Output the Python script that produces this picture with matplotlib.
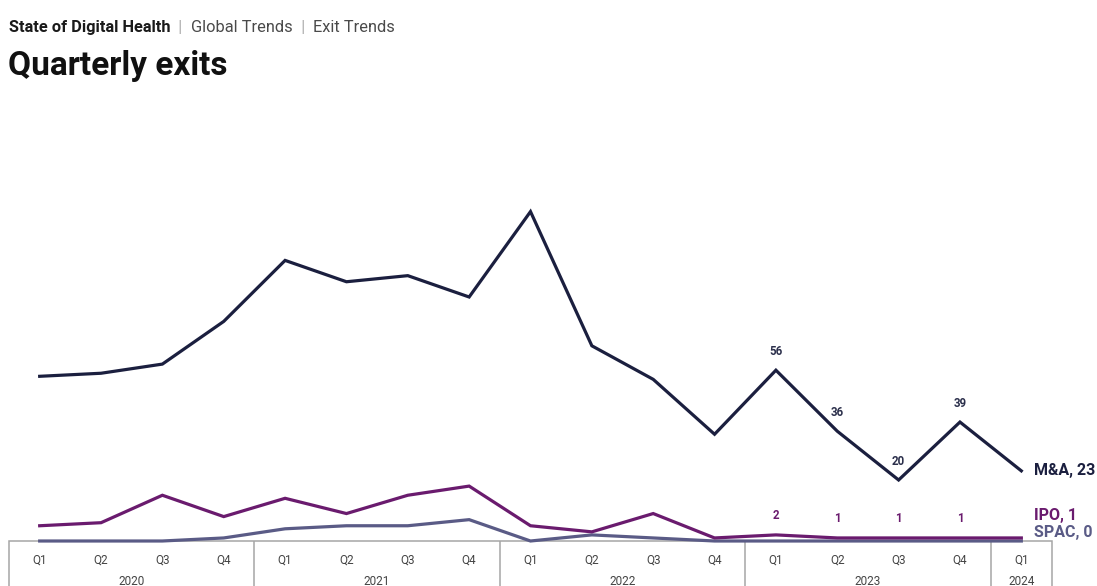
import matplotlib
matplotlib.use("Agg")
import matplotlib.pyplot as plt
from matplotlib.patches import Rectangle

plt.rcParams['font.family'] = ['Roboto', 'DejaVu Sans']

quarters = ['Q1', 'Q2', 'Q3', 'Q4'] * 4 + ['Q1']
years = ['2020', '2021', '2022', '2023', '2024']

ma = [54, 55, 58, 72, 92, 85, 87, 80, 108, 64, 53, 35, 56, 36, 20, 39, 23]
ipo = [5, 6, 15, 8, 14, 9, 15, 18, 5, 3, 9, 1, 2, 1, 1, 1, 1]
spac = [0, 0, 0, 1, 4, 5, 5, 7, 0, 2, 1, 0, 0, 0, 0, 0, 0]

ma_col = '#1b1f3f'
ipo_col = '#6a1b6e'
spac_col = '#5a5b86'
box_col = '#a6a6a6'

W, H = 1097, 586
fig = plt.figure(figsize=(W / 100, H / 100), dpi=100)
fig.patch.set_facecolor('white')

# axes: x -0.5..16.5 spans px 9..1052, y=0 sits at px 541
ax = fig.add_axes([9 / W, 0, 1043 / W, 476 / H])
ax.set_xlim(-0.5, 16.5)
ax.set_ylim(-45 / 3.05, 431 / 3.05)
ax.axis('off')

x = list(range(len(ma)))

# category box below the baseline
ax.add_patch(Rectangle((-0.5, -40), 17, 40, fill=False, ec=box_col, lw=1.1,
                       clip_on=False, zorder=1))
ax.vlines([3.5, 7.5, 11.5, 15.5], -40, 0, color=box_col, lw=1.1, zorder=1)

for i, q in enumerate(quarters):
    ax.text(i, -7.3, q, ha='center', va='baseline', fontsize=8.5, color='#444444')
year_centers = [1.5, 5.5, 9.5, 13.5, 16]
for xc, yr in zip(year_centers, years):
    ax.text(xc, -14.4, yr, ha='center', va='baseline', fontsize=8.5, color='#444444')

ax.plot(x, spac, color=spac_col, lw=2.3, zorder=3, solid_joinstyle='miter')
ax.plot(x, ipo, color=ipo_col, lw=2.3, zorder=4, solid_joinstyle='miter')
ax.plot(x, ma, color=ma_col, lw=2.3, zorder=5, solid_joinstyle='miter')

# value labels for the 2023 quarters
for i in range(12, 16):
    ax.annotate(str(ma[i]), (x[i], ma[i]), xytext=(0, 12), textcoords='offset pixels',
                ha='center', va='bottom', fontsize=8.3, fontweight='bold', color='#2b2f4b')
    ax.annotate(str(ipo[i]), (x[i], ipo[i]), xytext=(0, 13), textcoords='offset pixels',
                ha='center', va='bottom', fontsize=8.3, fontweight='bold', color=ipo_col)

# end-of-line series labels
last = len(ma) - 1
ax.annotate(f'M&A, {ma[last]}', (x[last], ma[last]), xytext=(13, 0), textcoords='offset pixels',
            ha='left', va='center', fontsize=11.5, fontweight='bold', color=ma_col)
ax.annotate(f'IPO, {ipo[last]}', (x[last], ipo[last]), xytext=(13, 22), textcoords='offset pixels',
            ha='left', va='center', fontsize=11.5, fontweight='bold', color=ipo_col)
ax.annotate(f'SPAC, {spac[last]}', (x[last], spac[last]), xytext=(13, 9), textcoords='offset pixels',
            ha='left', va='center', fontsize=11.5, fontweight='bold', color=spac_col)

# breadcrumb header
renderer = fig.canvas.get_renderer()
crumbs = [('State of Digital Health', 'bold', '#1a1a1a'), ('  |  ', 'normal', '#b0b0b0'),
          ('Global Trends', 'normal', '#4a4a4a'), ('  |  ', 'normal', '#b0b0b0'),
          ('Exit Trends', 'normal', '#4a4a4a')]
xpos = 9
for txt, wt, col in crumbs:
    t = fig.text(xpos / W, 1 - 32 / H, txt, fontsize=11.8, fontweight=wt, color=col,
                 ha='left', va='baseline')
    xpos += t.get_window_extent(renderer).width

fig.text(8 / W, 1 - 75 / H, 'Quarterly exits', fontsize=24, fontweight='bold',
         color='#111111', ha='left', va='baseline')

fig.savefig('out.png', dpi=100, facecolor='white')
